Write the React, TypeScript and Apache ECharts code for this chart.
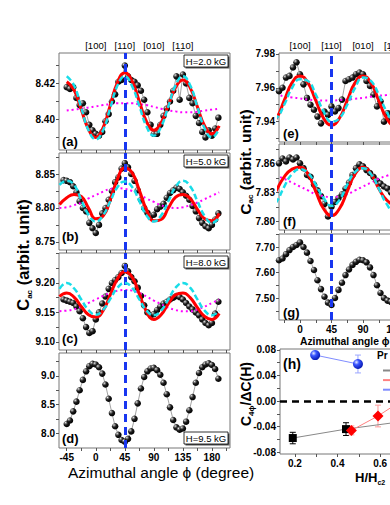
import React, { useEffect, useRef } from 'react';
import * as echarts from 'echarts';

const FONT = "'Liberation Sans', Arial, sans-serif";

// ---------- x positions ----------
const PHI_DATA = [-50, -45, -40, -35, -30, -25, -20, -15, -10, -5, 0, 5, 10, 15, 20, 25, 30, 35, 40, 45, 50, 55, 60, 65, 70, 75, 80, 85, 90, 95, 100, 105, 110, 115, 120, 125, 130, 135, 140, 145, 150, 155, 160, 165, 170, 175, 180, 185, 190];
const PHI_FIT = [-56.25, -45, -33.75, -22.5, -11.25, 0, 11.25, 22.5, 33.75, 45, 56.25, 67.5, 78.75, 90, 101.25, 112.5, 123.75, 135, 146.25, 157.5, 168.75, 180, 191.25, 202.5];
const PHI_R = [-30, -25, -20, -15, -10, -5, 0, 5, 10, 15, 20, 25, 30, 35, 40, 45, 50, 55, 60, 65, 70, 75, 80, 85, 90, 95, 100, 105, 110, 115, 120, 125, 130];

// ---------- panel (a) H=2.0 kG ----------
const dataA = [null, 8.418, 8.417, 8.418, 8.412, 8.408, 8.409, 8.404, 8.397, 8.394, 8.392, 8.391, 8.393, 8.399, 8.403, 8.410, 8.414, 8.421, 8.422, 8.430, 8.424, 8.422, 8.421, 8.419, 8.416, 8.411, 8.404, 8.397, 8.392, 8.392, 8.397, 8.402, 8.406, 8.410, 8.416, 8.424, 8.411, 8.425, 8.420, 8.412, 8.409, 8.402, 8.398, 8.393, 8.390, 8.394, 8.391, 8.395, 8.401];
const redA = [null, 8.421, 8.4165, 8.4055, 8.3945, 8.390, 8.3953, 8.408, 8.4207, 8.426, 8.4213, 8.410, 8.3987, 8.394, 8.3981, 8.408, 8.4179, 8.422, 8.4176, 8.407, 8.3964, 8.392, 8.3964, null];
const cyanA = [null, 8.424, 8.419, 8.4065, 8.394, 8.389, 8.394, 8.4065, 8.419, 8.424, 8.4185, 8.4075, 8.396, 8.391, 8.396, 8.4075, 8.419, 8.424, 8.419, 8.407, 8.395, 8.390, 8.395, null];
const magA = [null, 8.405, 8.4055, 8.406, 8.4067, 8.4073, 8.408, 8.4085, 8.409, 8.409, 8.409, 8.4085, 8.408, 8.407, 8.406, 8.405, 8.4045, 8.404, 8.404, 8.4043, 8.405, 8.4055, 8.406, null];

// ---------- panel (b) H=5.0 kG ----------
const dataB = [8.841, 8.840, 8.838, 8.832, 8.823, 8.810, 8.800, 8.795, 8.778, 8.770, 8.763, 8.775, 8.792, 8.800, 8.812, 8.825, 8.838, 8.845, 8.858, 8.866, 8.860, 8.850, 8.840, 8.826, 8.812, 8.800, 8.793, 8.788, 8.790, 8.798, 8.802, 8.806, 8.815, 8.822, 8.826, 8.830, 8.828, 8.823, 8.818, 8.812, 8.803, 8.795, 8.785, 8.778, 8.773, 8.770, 8.775, 8.783, 8.792];
const redB = [8.805, 8.815, 8.820, 8.817, 8.800, 8.784, 8.788, 8.812, 8.843, 8.859, 8.852, 8.826, 8.797, 8.781, 8.783, 8.800, 8.816, 8.820, 8.814, 8.798, 8.784, 8.781, 8.792, null];
const cyanB = [8.834, 8.840, 8.834, 8.812, 8.790, 8.780, 8.789, 8.810, 8.831, 8.839, 8.831, 8.810, 8.789, 8.780, 8.789, 8.810, 8.831, 8.840, 8.832, 8.810, 8.788, 8.778, 8.786, null];
const magB = [8.800, 8.801, 8.804, 8.808, 8.814, 8.819, 8.824, 8.828, 8.829, 8.828, 8.825, 8.820, 8.814, 8.809, 8.804, 8.801, 8.800, 8.801, 8.804, 8.808, 8.813, 8.818, 8.823, null];

// ---------- panel (c) H=8.0 kG ----------
const dataC = [9.172, 9.170, 9.168, 9.166, 9.160, 9.152, 9.140, 9.125, 9.115, 9.118, 9.138, 9.150, 9.165, 9.177, 9.190, 9.200, 9.205, 9.210, 9.217, 9.229, 9.220, 9.210, 9.203, 9.192, 9.178, 9.162, 9.150, 9.145, 9.147, 9.154, 9.160, 9.165, 9.168, 9.172, 9.175, 9.178, 9.176, 9.172, 9.166, 9.160, 9.155, 9.150, 9.145, 9.138, 9.132, 9.128, 9.132, 9.148, 9.168];
const redC = [9.177, 9.183, 9.176, 9.160, 9.146, 9.142, 9.153, 9.180, 9.207, 9.219, 9.210, 9.181, 9.151, 9.138, 9.146, 9.165, 9.180, 9.183, 9.175, 9.158, 9.143, 9.138, 9.148, null];
const cyanC = [9.190, 9.200, 9.191, 9.172, 9.154, 9.146, 9.154, 9.173, 9.192, 9.200, 9.192, 9.172, 9.153, 9.145, 9.153, 9.172, 9.192, 9.200, 9.192, 9.172, 9.153, 9.145, 9.153, null];
const magC = [9.152, 9.153, 9.155, 9.160, 9.166, 9.172, 9.178, 9.183, 9.187, 9.188, 9.187, 9.183, 9.177, 9.170, 9.164, 9.158, 9.154, 9.152, 9.152, 9.155, 9.160, 9.166, 9.172, null];

// ---------- panel (d) H=9.5 kG ----------
const dataD = [null, 8.16, 8.22, 8.38, 8.55, 8.75, 8.93, 9.08, 9.17, 9.21, 9.20, 9.15, 9.04, 8.85, 8.60, 8.35, 8.12, 7.97, 7.88, 7.85, 7.90, 8.03, 8.25, 8.52, 8.78, 8.98, 9.08, 9.13, 9.14, 9.10, 9.02, 8.88, 8.68, 8.45, 8.23, 8.10, 8.06, 8.08, 8.20, 8.40, 8.63, 8.88, 9.05, 9.15, 9.20, 9.22, 9.19, 9.12, 8.95];

// ---------- right column (e), (f), (g) ----------
const dataE = [7.958, 7.960, 7.966, 7.967, 7.972, 7.975, 7.968, 7.962, 7.954, 7.950, 7.947, 7.943, 7.939, 7.946, 7.944, 7.949, 7.946, 7.948, 7.953, 7.964, 7.965, 7.966, 7.968, 7.969, 7.968, 7.964, 7.961, 7.956, 7.949, 7.952, 7.940, 7.945, 7.942];
const redE = [7.942, 7.938, 7.942, 7.9525, 7.963, 7.967, 7.963, 7.9525, 7.942, 7.938, 7.942, 7.9525, 7.963, 7.967, 7.963, 7.9525, 7.942, 7.938, 7.942, 7.9525, 7.963, 7.967, 7.963, 7.9525];
const cyanE = [7.945, 7.940, 7.942, 7.950, 7.960, 7.965, 7.964, 7.956, 7.946, 7.940, 7.942, 7.950, 7.960, 7.966, 7.964, 7.956, 7.946, 7.940, 7.942, 7.950, 7.960, 7.965, 7.964, 7.956];
const magE = [7.9558, 7.956, 7.9558, 7.955, 7.9543, 7.9537, 7.953, 7.9527, 7.9525, 7.9525, 7.9527, 7.953, 7.9535, 7.954, 7.9547, 7.9553, 7.9557, 7.956, 7.9558, 7.955, 7.9543, 7.9537, 7.953, 7.9527];

const dataF = [7.860, 7.865, 7.862, 7.866, 7.864, 7.866, 7.860, 7.855, 7.848, 7.846, 7.838, 7.832, 7.826, 7.818, 7.805, 7.815, 7.820, 7.824, 7.828, 7.834, 7.840, 7.848, 7.855, 7.859, 7.857, 7.853, 7.850, 7.846, 7.842, 7.839, 7.836, 7.834, 7.830];
const redF = [7.815, 7.818, 7.832, 7.846, 7.854, 7.856, 7.849, 7.831, 7.813, 7.806, 7.813, 7.831, 7.849, 7.856, 7.849, 7.834, 7.822, 7.818, 7.822, 7.834, 7.849, 7.856, 7.849, 7.831];
const cyanF = [7.817, 7.813, 7.820, 7.836, 7.849, 7.854, 7.850, 7.838, 7.824, 7.816, 7.822, 7.838, 7.851, 7.855, 7.849, 7.834, 7.818, 7.810, 7.816, 7.834, 7.849, 7.854, 7.850, 7.838];
const magF = [7.848, 7.849, 7.847, 7.844, 7.840, 7.836, 7.832, 7.828, 7.826, 7.825, 7.826, 7.828, 7.832, 7.836, 7.840, 7.844, 7.847, 7.849, 7.848, 7.845, 7.841, 7.836, 7.832, 7.828];

const dataG = [7.648, 7.655, 7.672, 7.688, 7.700, 7.708, 7.718, 7.700, 7.678, 7.645, 7.610, 7.570, 7.535, 7.505, 7.482, 7.473, 7.500, 7.532, 7.560, 7.590, 7.612, 7.630, 7.642, 7.650, 7.648, 7.640, 7.620, 7.590, 7.550, 7.520, 7.500, 7.490, 7.485];

// ---------- panel (h) ----------
const H_BLACK_X = [0.19, 0.44, 0.73];
const H_BLACK_Y = [-0.058, -0.044, -0.031];
const H_BLACK_ERR = [0.009, 0.010, 0.010];
const H_RED_X = [0.465, 0.59, 0.73];
const H_RED_Y = [-0.046, -0.0235, 0.007];
const H_RED_ERR = [0.007, 0.017, 0.012];
const H_BLUE_X = [0.295, 0.496];
const H_BLUE_Y = [0.072, 0.058];
const H_BLUE_ERR = [0.006, 0.014];
const H_SERIES_NAMES = ['C4\u03d5 (T1)', 'C4\u03d5 (T2)', 'C2\u03d5'];

// ---------- tick labels ----------
const X_LEFT_TICKS = [-45, -22.5, 0, 22.5, 45, 67.5, 90, 112.5, 135, 157.5, 180, 202.5];
const X_LEFT_LABELS = [-45, 0, 45, 90, 135, 180];
const X_RIGHT_TICKS = [-22.5, 0, 22.5, 45, 67.5, 90, 112.5, 135, 157.5, 180];
const X_RIGHT_LABELS = [0, 45, 90, 135];
const DIR_PHI = [0, 45, 90, 135];
const DIR_LABELS = ['[100]', '[110]', '[010]', '[1\u033210]'];
const H_X_TICKS = [0.2, 0.3, 0.4, 0.5, 0.6, 0.7, 0.8];
const H_X_LABELS = [0.2, 0.4, 0.6];
const FIELD_LABELS = ['H=2.0 kG', 'H=5.0 kG', 'H=8.0 kG', 'H=9.5 kG'];
const PANEL_LABELS = ['(a)', '(b)', '(c)', '(d)', '(e)', '(f)', '(g)', '(h)'];

const Y_CFG = [
  { min: 8.383, max: 8.437, ticks: [8.39, 8.40, 8.41, 8.42, 8.43], labels: [8.40, 8.42], dec: 2 },
  { min: 8.738, max: 8.881, ticks: [8.75, 8.775, 8.80, 8.825, 8.85, 8.875], labels: [8.75, 8.80, 8.85], dec: 2 },
  { min: 9.086, max: 9.251, ticks: [9.10, 9.125, 9.15, 9.175, 9.20, 9.225, 9.25], labels: [9.10, 9.15, 9.20], dec: 2 },
  { min: 7.74, max: 9.40, ticks: [8.0, 8.25, 8.5, 8.75, 9.0, 9.25], labels: [8.0, 8.5, 9.0], dec: 1 },
  { min: 7.928, max: 7.9805, ticks: [7.93, 7.94, 7.95, 7.96, 7.97, 7.98], labels: [7.94, 7.96, 7.98], dec: 2 },
  { min: 7.791, max: 7.880, ticks: [7.80, 7.815, 7.83, 7.845, 7.86, 7.875], labels: [7.80, 7.83, 7.86], dec: 2 },
  { min: 7.414, max: 7.751, ticks: [7.45, 7.50, 7.55, 7.60, 7.65, 7.70, 7.75], labels: [7.50, 7.60, 7.70], dec: 2 },
  { min: -0.083, max: 0.0815, ticks: [-0.08, -0.06, -0.04, -0.02, 0, 0.02, 0.04, 0.06, 0.08], labels: [-0.08, -0.04, 0, 0.04, 0.08], dec: 2 },
];

// ---------- layout ----------
const GRIDS = [
  { left: 59, top: 53, width: 171, height: 97 },
  { left: 59, top: 153, width: 171, height: 97 },
  { left: 59, top: 253, width: 171, height: 97 },
  { left: 59, top: 353, width: 171, height: 95 },
  { left: 279, top: 53, width: 161, height: 89 },
  { left: 279, top: 144, width: 161, height: 86 },
  { left: 279, top: 234, width: 161, height: 86 },
  { left: 280, top: 349, width: 164, height: 105 },
];

const BALL = {
  type: 'radial', x: 0.32, y: 0.3, r: 0.72,
  colorStops: [
    { offset: 0, color: '#f4f4f4' },
    { offset: 0.18, color: '#8a8a8a' },
    { offset: 0.5, color: '#1c1c1c' },
    { offset: 1, color: '#000000' },
  ],
};
const BLUE_BALL = {
  type: 'radial', x: 0.35, y: 0.32, r: 0.75,
  colorStops: [
    { offset: 0, color: '#e8ecff' },
    { offset: 0.35, color: '#3a55ff' },
    { offset: 1, color: '#0010a8' },
  ],
};

const pairs = (xs: number[], ys: (number | null)[]) =>
  xs.map((x, i) => [x, ys[i]]).filter((p) => p[1] !== null && p[1] !== undefined);

const vMark = {
  silent: true, symbol: 'none', label: { show: false },
  lineStyle: { color: '#1836f0', width: 3, type: [8, 5] },
  data: [{ xAxis: 45 }],
};

function dataSeries(gi: number, xs: number[], ys: (number | null)[], mark = false) {
  const s: any = {
    type: 'line', xAxisIndex: gi, yAxisIndex: gi, silent: true,
    data: pairs(xs, ys), symbol: 'circle', symbolSize: 6.5, showSymbol: true,
    itemStyle: { color: BALL }, lineStyle: { color: '#8a8a8a', width: 0.8 }, z: 2,
  };
  if (mark) s.markLine = vMark;
  return s;
}
function fitSeries(gi: number, ys: (number | null)[], kind: 'red' | 'cyan' | 'mag', mark = false) {
  const ls =
    kind === 'red' ? { color: '#ff0000', width: 3, type: 'solid' } :
    kind === 'cyan' ? { color: '#19dde8', width: 2.5, type: [6, 3] } :
    { color: '#ff00ff', width: 2, type: [2, 3] };
  const s: any = {
    type: 'line', xAxisIndex: gi, yAxisIndex: gi, silent: true, smooth: 0.5,
    data: pairs(PHI_FIT, ys), showSymbol: false, symbol: 'none', lineStyle: ls,
    z: kind === 'mag' ? 3 : kind === 'red' ? 4 : 5,
  };
  if (mark) s.markLine = vMark;
  return s;
}
function errorSeries(xs: number[], ys: number[], errs: number[], color: string) {
  return {
    type: 'custom', xAxisIndex: 7, yAxisIndex: 7, silent: true, z: 3, clip: true,
    data: xs.map((x, i) => [x, ys[i] - errs[i], ys[i] + errs[i]]),
    encode: { x: 0, y: [1, 2] },
    renderItem: (_p: any, api: any) => {
      const x = api.value(0);
      const lo = api.coord([x, api.value(1)]);
      const hi = api.coord([x, api.value(2)]);
      const w = 3;
      const st = { stroke: color, lineWidth: 1 };
      return {
        type: 'group',
        children: [
          { type: 'line', shape: { x1: lo[0], y1: lo[1], x2: hi[0], y2: hi[1] }, style: st },
          { type: 'line', shape: { x1: lo[0] - w, y1: lo[1], x2: lo[0] + w, y2: lo[1] }, style: st },
          { type: 'line', shape: { x1: hi[0] - w, y1: hi[1], x2: hi[0] + w, y2: hi[1] }, style: st },
        ],
      };
    },
  };
}

function buildOption(): any {
  const tickStyle = { color: '#555', width: 1 };
  const labelBase = { color: '#000', fontSize: 10, fontWeight: 'bold', fontFamily: FONT };

  const grid = GRIDS.map((g) => ({
    ...g, show: true, borderColor: '#777', borderWidth: 1, backgroundColor: 'transparent',
    containLabel: false, outerBoundsMode: 'none',
  }));

  const xAxis: any[] = GRIDS.map((_, gi) => {
    const left = gi < 4;
    const isH = gi === 7;
    const showLabels = gi === 3 || gi === 6 || isH;
    return {
      type: 'value', gridIndex: gi, position: 'bottom',
      min: isH ? 0.13 : left ? -57 : -30,
      max: isH ? 0.9 : left ? 208 : 200,
      axisLine: { show: false, onZero: false }, splitLine: { show: false },
      axisTick: { show: true, inside: false, length: 3, lineStyle: tickStyle, customValues: isH ? H_X_TICKS : left ? X_LEFT_TICKS : X_RIGHT_TICKS },
      axisLabel: {
        show: showLabels, ...labelBase, margin: 4,
        customValues: isH ? H_X_LABELS : left ? X_LEFT_LABELS : X_RIGHT_LABELS,
        formatter: (v: number) => (isH ? v.toFixed(1) : String(Math.round(v))),
      },
    };
  });
  // direction labels above (a) and (e)
  [0, 4].forEach((gi) => {
    xAxis.push({
      type: 'value', gridIndex: gi, position: 'top',
      min: gi === 0 ? -57 : -30, max: gi === 0 ? 208 : 200,
      axisLine: { show: false, onZero: false }, splitLine: { show: false }, axisTick: { show: false },
      axisLabel: {
        show: true, color: '#000', fontSize: 9.5, fontFamily: FONT, margin: 3,
        customValues: DIR_PHI,
        formatter: (v: number) => DIR_LABELS[DIR_PHI.indexOf(Math.round(v))] || '',
      },
    });
  });

  const yAxis = Y_CFG.map((c, gi) => ({
    type: 'value', gridIndex: gi, min: c.min, max: c.max,
    axisLine: { show: false, onZero: false }, splitLine: { show: false },
    axisTick: { show: true, inside: false, length: 3, lineStyle: tickStyle, customValues: c.ticks },
    axisLabel: { show: true, ...labelBase, margin: 4, customValues: c.labels, formatter: (v: number) => v.toFixed(c.dec) },
  }));

  const series: any[] = [
    // (a)
    dataSeries(0, PHI_DATA, dataA), fitSeries(0, magA, 'mag'), fitSeries(0, redA, 'red'), fitSeries(0, cyanA, 'cyan', true),
    // (b)
    dataSeries(1, PHI_DATA, dataB), fitSeries(1, magB, 'mag'), fitSeries(1, redB, 'red'), fitSeries(1, cyanB, 'cyan', true),
    // (c)
    dataSeries(2, PHI_DATA, dataC), fitSeries(2, magC, 'mag'), fitSeries(2, redC, 'red'), fitSeries(2, cyanC, 'cyan', true),
    // (d)
    dataSeries(3, PHI_DATA, dataD, true),
    // (e)
    dataSeries(4, PHI_R, dataE), fitSeries(4, magE, 'mag'), fitSeries(4, redE, 'red'), fitSeries(4, cyanE, 'cyan', true),
    // (f)
    dataSeries(5, PHI_R, dataF), fitSeries(5, magF, 'mag'), fitSeries(5, redF, 'red'), fitSeries(5, cyanF, 'cyan', true),
    // (g)
    dataSeries(6, PHI_R, dataG, true),
    // (h)
    errorSeries(H_BLACK_X, H_BLACK_Y, H_BLACK_ERR, '#000000'),
    errorSeries(H_RED_X, H_RED_Y, H_RED_ERR, '#ff9a9a'),
    errorSeries(H_BLUE_X, H_BLUE_Y, H_BLUE_ERR, '#9aa6ff'),
    {
      name: H_SERIES_NAMES[0], type: 'line', xAxisIndex: 7, yAxisIndex: 7, silent: true, z: 4,
      data: pairs(H_BLACK_X, H_BLACK_Y), symbol: 'rect', symbolSize: 8, showSymbol: true,
      itemStyle: { color: '#000' }, lineStyle: { color: '#888', width: 1 },
      markLine: { silent: true, symbol: 'none', label: { show: false }, lineStyle: { color: '#000', width: 2.5, type: [7, 5] }, data: [{ yAxis: 0 }] },
    },
    {
      name: H_SERIES_NAMES[1], type: 'line', xAxisIndex: 7, yAxisIndex: 7, silent: true, z: 4,
      data: pairs(H_RED_X, H_RED_Y), symbol: 'diamond', symbolSize: 11, showSymbol: true,
      itemStyle: { color: '#ff0000' }, lineStyle: { color: '#ff8080', width: 1 },
    },
    {
      name: H_SERIES_NAMES[2], type: 'line', xAxisIndex: 7, yAxisIndex: 7, silent: true, z: 4,
      data: pairs(H_BLUE_X, H_BLUE_Y), symbol: 'circle', symbolSize: 10, showSymbol: true,
      itemStyle: { color: BLUE_BALL }, lineStyle: { color: '#7f8cff', width: 1 },
    },
  ];

  const txt = (x: number, y: number, text: string, size: number, bold = true, align = 'left') => ({
    type: 'text', x, y, silent: true,
    style: { text, fill: '#000', fontSize: size, fontWeight: bold ? 'bold' : 'normal', fontFamily: FONT, align, verticalAlign: 'middle' },
  });
  const box = (xr: number, yc: number, label: string) => ({
    type: 'group', x: xr - 44, y: yc - 6, silent: true,
    children: [
      { type: 'rect', shape: { x: 1.5, y: 1.5, width: 44, height: 12 }, style: { fill: '#555' } },
      { type: 'rect', shape: { x: 0, y: 0, width: 44, height: 12 }, style: { fill: '#fff', stroke: '#000', lineWidth: 0.8 } },
      { type: 'text', x: 22, y: 6.5, style: { text: label, fill: '#000', fontSize: 9.5, fontFamily: FONT, align: 'center', verticalAlign: 'middle' } },
    ],
  });
  const rotTitle = (x: number, y: number, main: string, sub: string, rest: string, size: number) => ({
    type: 'text', x, y, rotation: Math.PI / 2, silent: true,
    style: {
      text: `{c|${main}}{s|${sub}}{c|${rest}}`, align: 'center', verticalAlign: 'middle',
      rich: {
        c: { fontSize: size, fontWeight: 'bold', fontFamily: FONT, fill: '#000', lineHeight: size + 4 },
        s: { fontSize: 8, fontWeight: 'bold', fontFamily: FONT, fill: '#000', verticalAlign: 'bottom', lineHeight: 10 },
      },
    },
  });

  const graphic: any[] = [
    rotTitle(23, 255, 'C', 'ac', ' (arbit. unit)', 16.5),
    rotTitle(245, 162, 'C', 'ac', ' (arbit. unit)', 15.5),
    rotTitle(246, 394, 'C', '4\u03d5', '/\u0394C(H)', 14),
    txt(68, 472, 'Azimuthal angle \u03d5 (degree)', 15.5, false),
    txt(300, 341, 'Azimuthal angle \u03d5', 10.3, true),
    {
      type: 'text', x: 355, y: 477, silent: true,
      style: {
        text: '{c|H/H}{s|c2}', align: 'left', verticalAlign: 'middle',
        rich: {
          c: { fontSize: 13, fontWeight: 'bold', fontFamily: FONT, fill: '#000', lineHeight: 17 },
          s: { fontSize: 7, fontWeight: 'bold', fontFamily: FONT, fill: '#000', verticalAlign: 'bottom', lineHeight: 10 },
        },
      },
    },
    txt(377, 355, 'Pr', 10, true),
    txt(62, 141, PANEL_LABELS[0], 13),
    txt(62, 236, PANEL_LABELS[1], 13),
    txt(62, 338, PANEL_LABELS[2], 13),
    txt(62, 438, PANEL_LABELS[3], 13),
    txt(283, 133, PANEL_LABELS[4], 13),
    txt(283, 221, PANEL_LABELS[5], 13),
    txt(283, 312, PANEL_LABELS[6], 13),
    txt(283, 364, PANEL_LABELS[7], 14),
    box(228, 61, FIELD_LABELS[0]),
    box(228, 161, FIELD_LABELS[1]),
    box(228, 262, FIELD_LABELS[2]),
    box(228, 438, FIELD_LABELS[3]),
  ];

  return {
    animation: false,
    backgroundColor: '#ffffff',
    textStyle: { fontFamily: FONT },
    grid, xAxis, yAxis, series, graphic,
    legend: {
      show: true, data: H_SERIES_NAMES, orient: 'vertical', left: 377, top: 361,
      itemWidth: 22, itemHeight: 9, itemGap: 1.5, selectedMode: false,
      formatter: () => '',
      textStyle: { fontSize: 10, color: '#000', fontFamily: FONT },
    },
  };
}

export default function App() {
  const ref = useRef<HTMLDivElement>(null);
  useEffect(() => {
    if (!ref.current) return;
    const chart = echarts.init(ref.current, undefined, { renderer: 'svg' });
    chart.setOption(buildOption());
    return () => chart.dispose();
  }, []);
  return (
    <div
      ref={ref}
      style={{ position: 'fixed', left: 0, top: 0, width: 390, height: 505, background: '#fff' }}
    />
  );
}
